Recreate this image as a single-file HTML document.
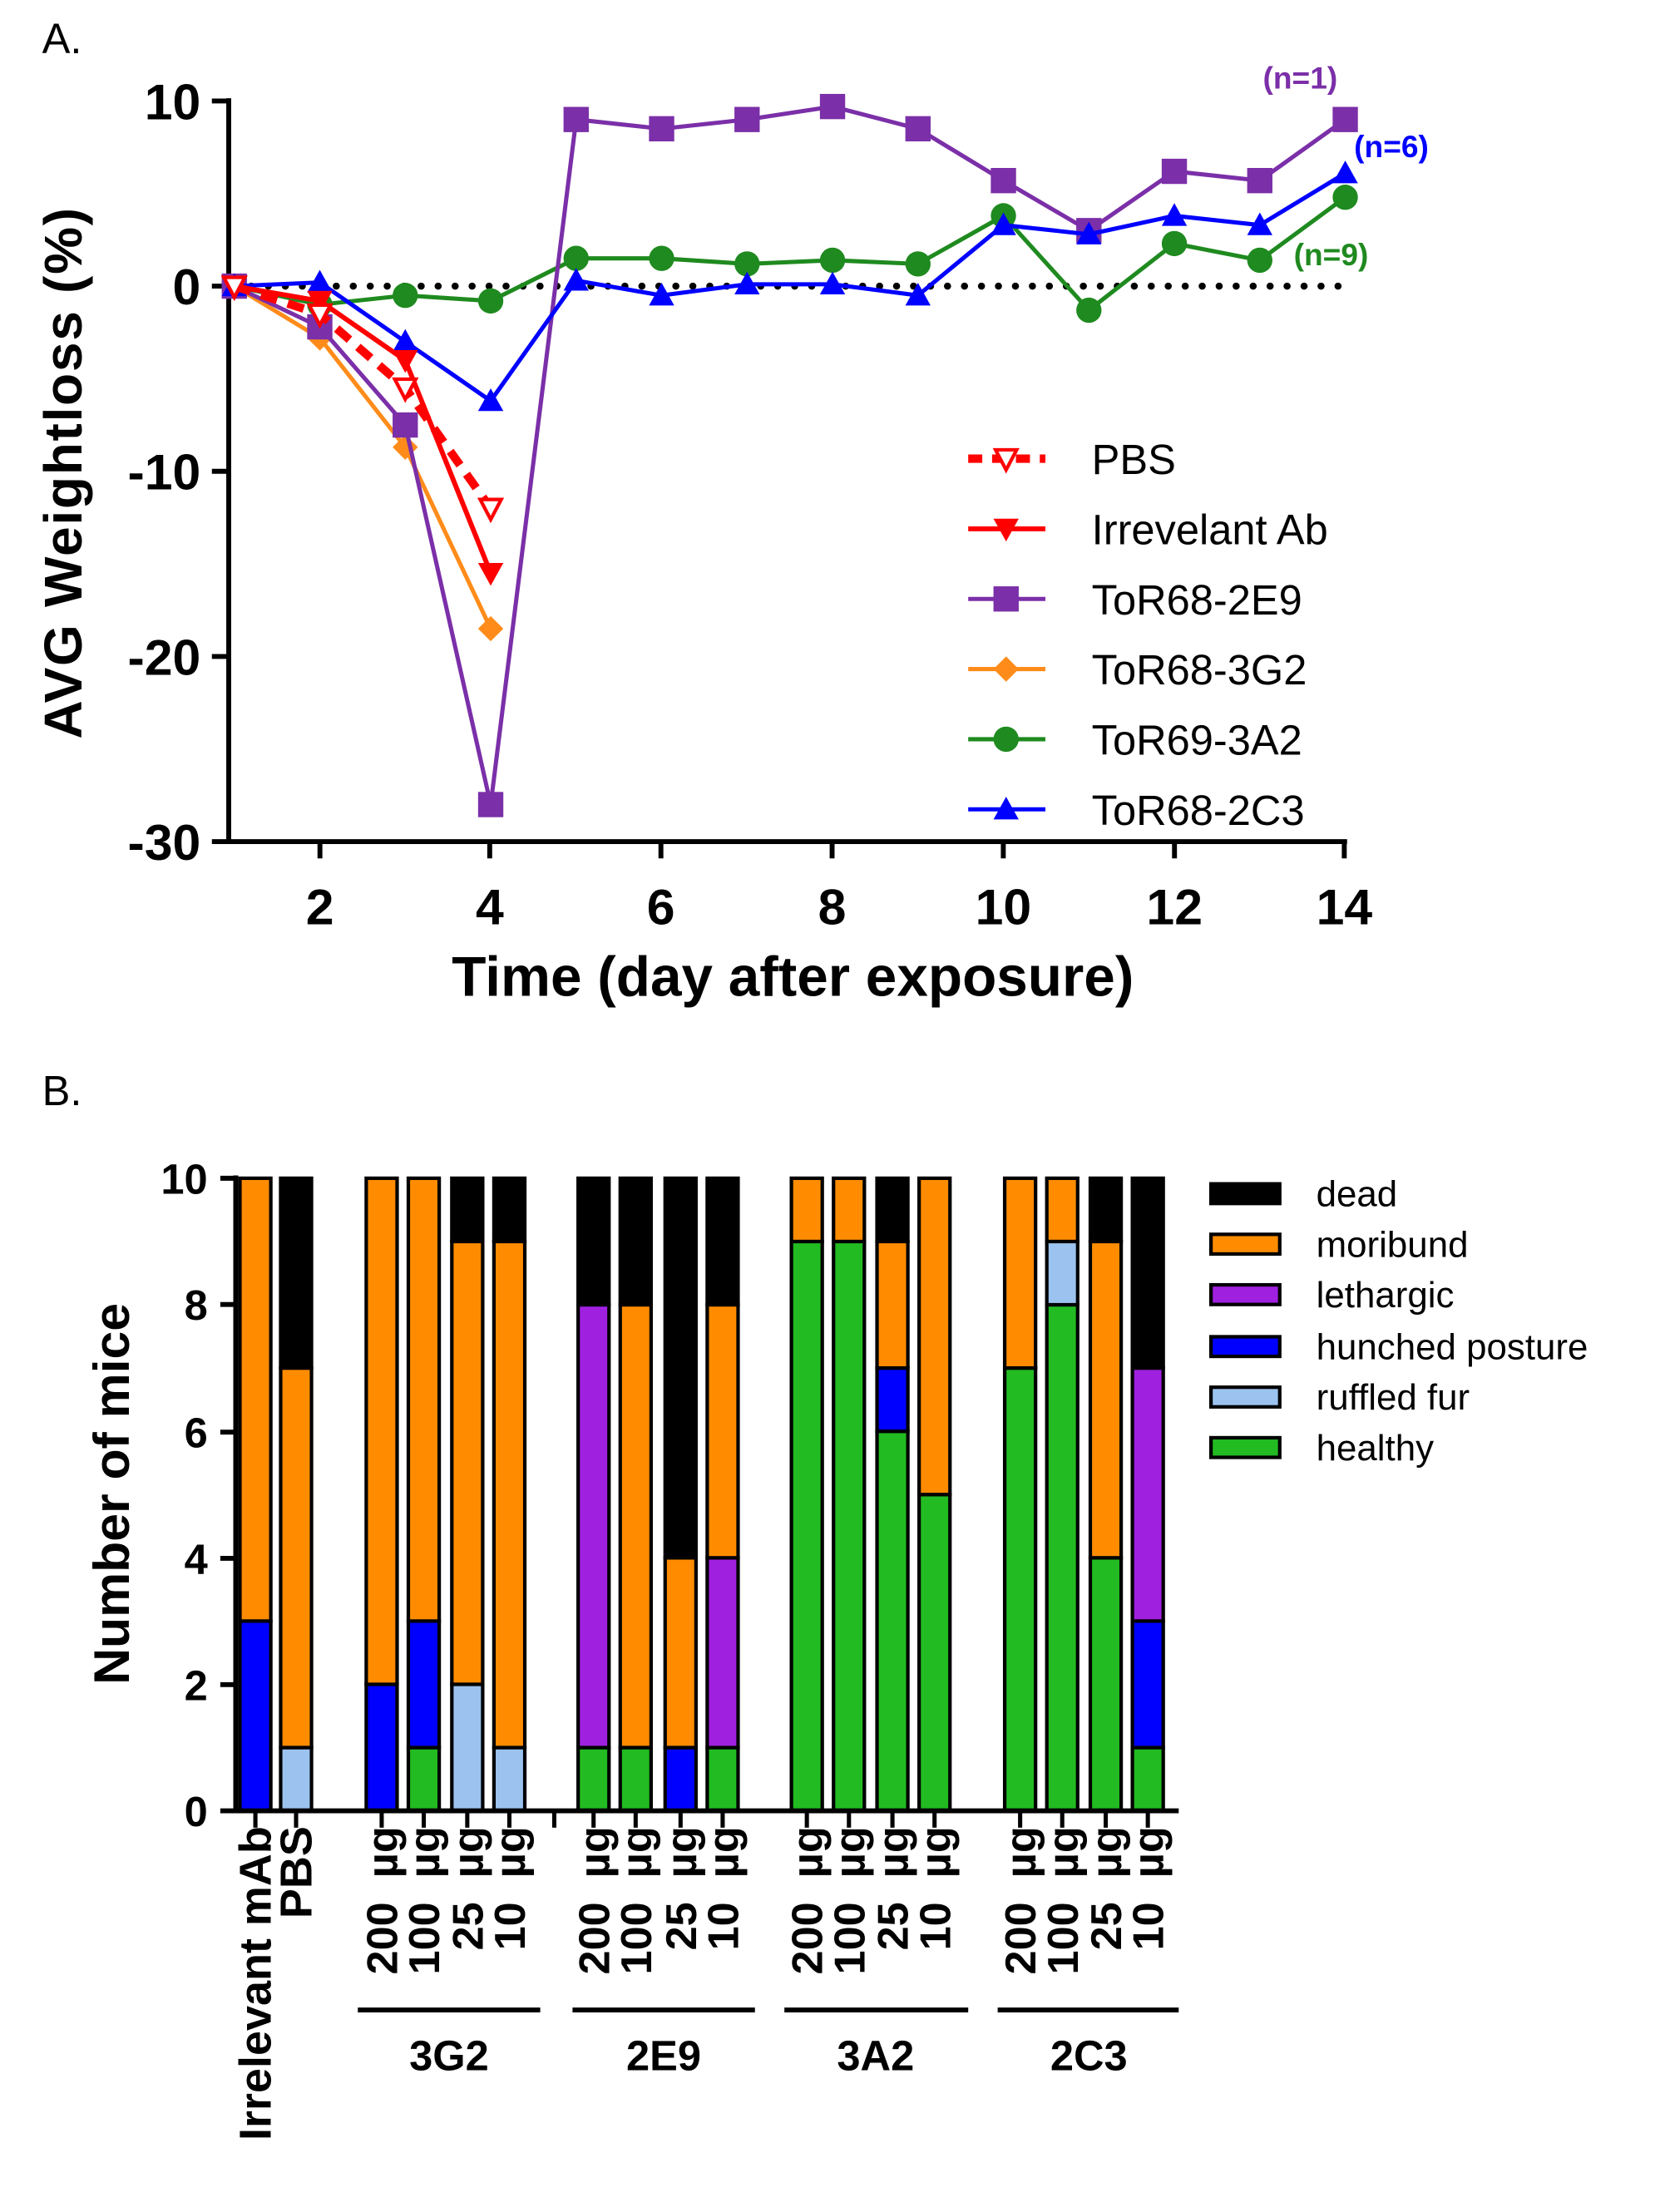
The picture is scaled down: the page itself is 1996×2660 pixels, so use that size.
<!DOCTYPE html>
<html><head><meta charset="utf-8"><style>
html,body{margin:0;padding:0;background:#fff}
svg{display:block}
text{font-family:"Liberation Sans",Arial,sans-serif}
.b{font-weight:bold}
</style></head><body>
<svg id="s" width="1996" height="2660" viewBox="0 0 1183 1577" preserveAspectRatio="none" xmlns="http://www.w3.org/2000/svg">
<rect width="1183" height="1577" fill="#fff"/>
<text x="30" y="38" font-size="30" font-family="Liberation Sans Narrow,Liberation Sans,sans-serif">A.</text>
<text x="30" y="788" font-size="30" font-family="Liberation Sans Narrow,Liberation Sans,sans-serif">B.</text>
<g stroke="#000" stroke-width="3.5" fill="none">
<path d="M163,70 V600 H960"/>
<path d="M151,72H163 M151,204H163 M151,336H163 M151,468H163 M151,600H163"/>
<path d="M228,600V612 M349,600V612 M471,600V612 M593,600V612 M715,600V612 M837,600V612 M958,600V612"/>
</g>
<line x1="167" y1="204" x2="962" y2="204" stroke="#000" stroke-width="5" stroke-dasharray="0.1 12" stroke-linecap="round"/>
<g class="b" font-size="36" text-anchor="end">
<text x="143" y="85">10</text><text x="143" y="217">0</text><text x="143" y="349">-10</text><text x="143" y="481">-20</text><text x="143" y="613">-30</text>
</g>
<g class="b" font-size="36" text-anchor="middle">
<text x="228" y="659">2</text><text x="349" y="659">4</text><text x="471" y="659">6</text><text x="593" y="659">8</text><text x="715" y="659">10</text><text x="837" y="659">12</text><text x="958" y="659">14</text>
</g>
<text class="b" x="565" y="710" font-size="40" text-anchor="middle">Time (day after exposure)</text>
<text class="b" x="0" y="0" font-size="38" text-anchor="middle" transform="translate(58,337) rotate(-90)" letter-spacing="1">AVG Weightloss (%)</text>
<g class="b" font-size="22">
<text x="900" y="63" fill="#7b2fa8">(n=1)</text>
<text x="965" y="112" fill="#0000ff">(n=6)</text>
<text x="922" y="189" fill="#1f8a1f">(n=9)</text>
</g>
<g id="lines"></g>
<g font-size="30">
<text x="778" y="338">PBS</text><text x="778" y="388">Irrevelant Ab</text><text x="778" y="438">ToR68-2E9</text><text x="778" y="488">ToR68-3G2</text><text x="778" y="538">ToR69-3A2</text><text x="778" y="588">ToR68-2C3</text>
</g>
<g id="bars"></g>
<g stroke="#000" stroke-width="3.5" fill="none">
<path d="M168,838 V1291 H840"/>
<path d="M157,840H168 M157,930H168 M157,1021H168 M157,1111H168 M157,1201H168 M157,1291H168"/>
<path d="M255,1433H385 M408,1433H538 M559,1433H690 M711,1433H840"/>
</g>
<g class="b" font-size="30" text-anchor="end">
<text x="148" y="851">10</text><text x="148" y="941">8</text><text x="148" y="1032">6</text><text x="148" y="1122">4</text><text x="148" y="1212">2</text><text x="148" y="1302">0</text>
</g>
<text class="b" x="0" y="0" font-size="36" text-anchor="middle" transform="translate(92,1065) rotate(-90)">Number of mice</text>
<g class="b" font-size="30" text-anchor="middle">
<text x="320" y="1476">3G2</text><text x="473" y="1476">2E9</text><text x="624" y="1476">3A2</text><text x="776" y="1476">2C3</text>
</g>
<g class="b" font-size="31" text-anchor="end">
<text transform="translate(193,1302) rotate(-90)" font-size="32">Irrelevant mAb</text>
<text transform="translate(222,1302) rotate(-90)" font-size="32">PBS</text>
<text transform="translate(283,1302) rotate(-90)">200 &#160;µg</text>
<text transform="translate(313,1302) rotate(-90)">100 &#160;µg</text>
<text transform="translate(344,1302) rotate(-90)">25 &#160;µg</text>
<text transform="translate(374,1302) rotate(-90)">10 &#160;µg</text>
<text transform="translate(434,1302) rotate(-90)">200 &#160;µg</text>
<text transform="translate(464,1302) rotate(-90)">100 &#160;µg</text>
<text transform="translate(496,1302) rotate(-90)">25 &#160;µg</text>
<text transform="translate(526,1302) rotate(-90)">10 &#160;µg</text>
<text transform="translate(586,1302) rotate(-90)">200 &#160;µg</text>
<text transform="translate(616,1302) rotate(-90)">100 &#160;µg</text>
<text transform="translate(647,1302) rotate(-90)">25 &#160;µg</text>
<text transform="translate(677,1302) rotate(-90)">10 &#160;µg</text>
<text transform="translate(738,1302) rotate(-90)">200 &#160;µg</text>
<text transform="translate(768,1302) rotate(-90)">100 &#160;µg</text>
<text transform="translate(799,1302) rotate(-90)">25 &#160;µg</text>
<text transform="translate(829,1302) rotate(-90)">10 &#160;µg</text>
</g>
<g stroke="#000" stroke-width="2.5">
<rect x="863" y="844" width="49" height="14" fill="#000"/>
<rect x="863" y="880" width="49" height="14" fill="#ff8c00"/>
<rect x="863" y="916" width="49" height="14" fill="#a020e0"/>
<rect x="863" y="953" width="49" height="14" fill="#0000ff"/>
<rect x="863" y="989" width="49" height="14" fill="#9cc3f0"/>
<rect x="863" y="1025" width="49" height="14" fill="#22bb22"/>
</g>
<g font-size="26">
<text x="938" y="860">dead</text><text x="938" y="896">moribund</text><text x="938" y="932">lethargic</text><text x="938" y="969">hunched posture</text><text x="938" y="1005">ruffled fur</text><text x="938" y="1041">healthy</text>
</g>
</svg>
<script>
var NS="http://www.w3.org/2000/svg";
function el(p,t,a){var e=document.createElementNS(NS,t);for(var k in a)e.setAttribute(k,a[k]);p.appendChild(e);return e;}
var L=document.getElementById("lines");
function X(d){return 167+(d-1)*60.9}function Y(v){return 204-v*13.2}
function marker(g,m,x,y,c,s){
 s=s||9;
 if(m=="sq")el(g,"rect",{x:x-s,y:y-s,width:2*s,height:2*s,fill:c});
 else if(m=="ci")el(g,"circle",{cx:x,cy:y,r:s,fill:c});
 else if(m=="di")el(g,"polygon",{points:(x)+","+(y-s)+" "+(x+s)+","+y+" "+x+","+(y+s)+" "+(x-s)+","+y,fill:c});
 else if(m=="up")el(g,"polygon",{points:x+","+(y-s)+" "+(x+s)+","+(y+s*0.8)+" "+(x-s)+","+(y+s*0.8),fill:c});
 else if(m=="dn")el(g,"polygon",{points:x+","+(y+s)+" "+(x+s)+","+(y-s*0.8)+" "+(x-s)+","+(y-s*0.8),fill:c});
 else if(m=="dno")el(g,"polygon",{points:x+","+(y+s-1)+" "+(x+s-1.5)+","+(y-s*0.7)+" "+(x-s+1.5)+","+(y-s*0.7),fill:"#fff",stroke:c,"stroke-width":2.5});
}
var S=[
 {c:"#1f8a1f",m:"ci",w:3,d:[0,-1,-0.5,-0.8,1.5,1.5,1.2,1.4,1.2,3.8,-1.3,2.3,1.4,4.8]},
 {c:"#ff8c1a",m:"di",w:3,d:[0,-2.8,-8.7,-18.5]},
 {c:"#7b2fa8",m:"sq",w:3,d:[0,-2.2,-7.5,-28,9,8.5,9,9.7,8.5,5.7,3,6.2,5.7,9]},
 {c:"#0000ff",m:"up",w:3,d:[0,0.2,-3,-6.2,0.3,-0.5,0.1,0.1,-0.5,3.3,2.8,3.8,3.3,6.1]},
 {c:"#ff0000",m:"dn",w:3.5,d:[0,-0.8,-4,-15.5]},
 {c:"#ff0000",m:"dno",w:6,dash:"12 8",d:[0,-1.5,-5.5,-12]}
];
S.forEach(function(s){
 var p=s.d.map(function(v,i){return X(i+1)+","+Y(v)}).join(" ");
 var a={points:p,fill:"none",stroke:s.c,"stroke-width":s.w};if(s.dash)a["stroke-dasharray"]=s.dash;
 el(L,"polyline",a);
 s.d.forEach(function(v,i){marker(L,s.m,X(i+1),Y(v),s.c)});
});
var leg=[["#ff0000","dno",6,"10 7"],["#ff0000","dn",3.5],["#7b2fa8","sq",3],["#ff8c1a","di",3],["#1f8a1f","ci",3],["#0000ff","up",3]];
leg.forEach(function(l,i){var y=327+i*50;var a={x1:690,x2:745,y1:y,y2:y,stroke:l[0],"stroke-width":l[2]};if(l[3])a["stroke-dasharray"]=l[3];el(L,"line",a);marker(L,l[1],717,y,l[0]);});
var B=document.getElementById("bars");
var col=["#22bb22","#9cc3f0","#0000ff","#a020e0","#ff8c00","#000"];
var cx=[182,211,272,302,333,363,423,453,485,515,575,605,636,666,727,757,788,818];
var D=[[0,0,3,0,7,0],[0,1,0,0,6,3],[0,0,2,0,8,0],[1,0,2,0,7,0],[0,2,0,0,7,1],[0,1,0,0,8,1],
[1,0,0,7,0,2],[1,0,0,0,7,2],[0,0,1,0,3,6],[1,0,0,3,4,2],
[9,0,0,0,1,0],[9,0,0,0,1,0],[6,0,1,0,2,1],[5,0,0,0,5,0],
[7,0,0,0,3,0],[8,1,0,0,1,0],[4,0,0,0,5,1],[1,0,2,4,0,3]];
function BY(v){return 1291-v*45.1}
D.forEach(function(d,i){var acc=0;d.forEach(function(n,k){if(!n)return;el(B,"rect",{x:cx[i]-11,y:BY(acc+n),width:22,height:n*45.1,fill:col[k],stroke:"#000","stroke-width":2.5});acc+=n;});
 el(B,"line",{x1:cx[i],x2:cx[i],y1:1291,y2:1303,stroke:"#000","stroke-width":3});});
el(B,"line",{x1:395,x2:395,y1:1291,y2:1303,stroke:"#000","stroke-width":3});
</script>
</body></html>
